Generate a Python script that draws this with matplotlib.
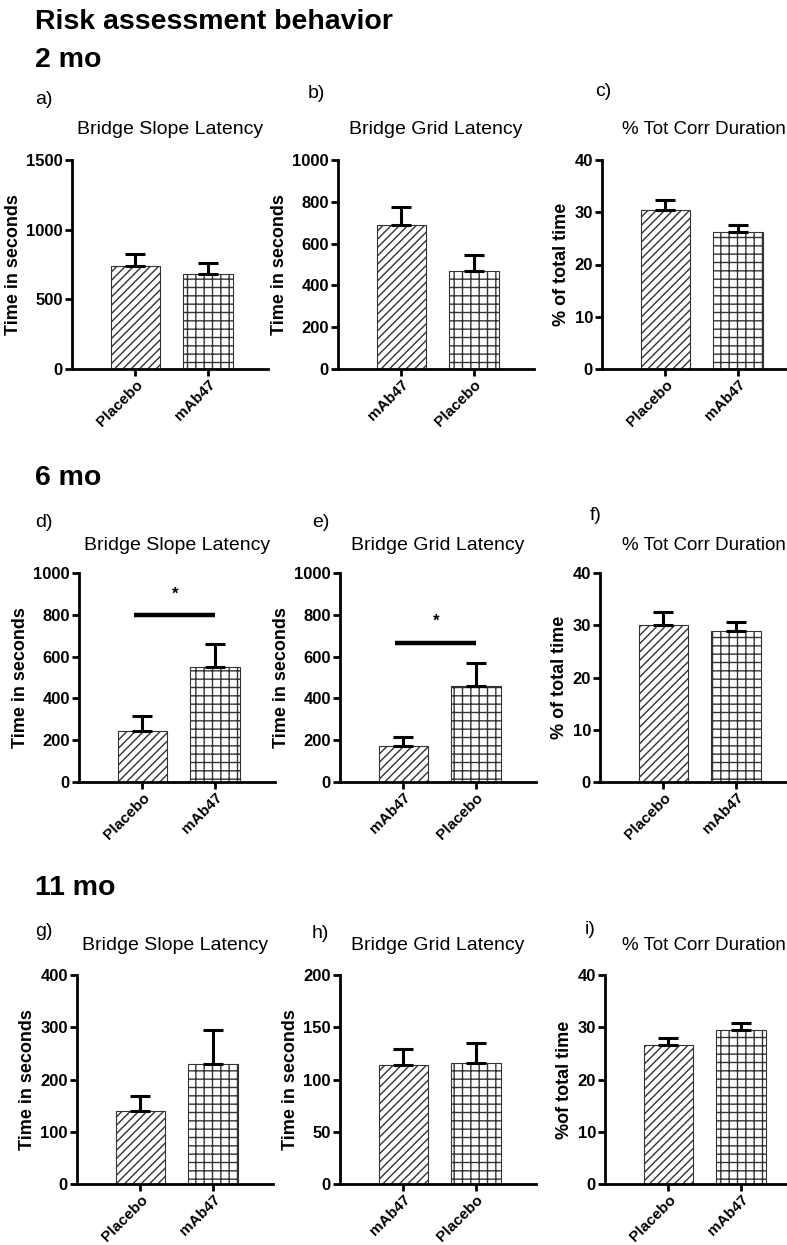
import matplotlib

matplotlib.use('Agg')
import matplotlib.pyplot as plt

plt.rcParams['font.family'] = ['Liberation Sans', 'DejaVu Sans']
plt.rcParams['hatch.linewidth'] = 1.0

W, H = 787, 1245

# data (mean, upper error)
titles = ['Bridge Slope Latency', 'Bridge Grid Latency', '% Tot Corr Duration']
ages = ['2 mo', '6 mo', '11 mo']
letters = ['a)', 'b)', 'c)', 'd)', 'e)', 'f)', 'g)', 'h)', 'i)']

groups_a = ['Placebo', 'mAb47']
groups_b = ['mAb47', 'Placebo']

means_2mo = [[740, 681], [691, 469], [30.5, 26.3]]
errs_2mo = [[84, 83], [82, 77], [1.8, 1.2]]
means_6mo = [[243, 548], [171, 457], [30.0, 28.9]]
errs_6mo = [[74, 111], [43, 111], [2.5, 1.8]]
means_11mo = [[139, 229], [113.7, 115.7], [26.6, 29.5]]
errs_11mo = [[30, 66], [15.7, 19.1], [1.3, 1.4]]

ymax = [[1500, 1000, 40], [1000, 1000, 40], [400, 200, 40]]
ystep = [[500, 200, 10], [200, 200, 10], [100, 50, 10]]
ylabels = ['Time in seconds', 'Time in seconds', '% of total time']
ylabels_11 = ['Time in seconds', 'Time in seconds', '%of total time']

# significance bars (row, col, y of bar, y of star)
sig = [(1, 0, 800, 900), (1, 1, 667, 770)]

# layout in pixels
axes_left = [[72, 338, 602], [79, 340, 600], [77, 340, 605]]
axes_top = [160, 573, 975]
axes_h = 209
axes_w = 196
age_y = [60, 478, 888]
letter_pos = [[(35, 100), (308, 94), (595, 92)],
              [(35, 522), (312, 523), (590, 515)],
              [(35, 932), (312, 934), (585, 930)]]
title_y = [129, 545, 946]


def fx(x):
    return x / W


def fy(y):
    return 1 - y / H


fig = plt.figure(figsize=(W / 100, H / 100), dpi=100)
fig.patch.set_facecolor('white')

fig.text(fx(35), fy(22), 'Risk assessment behavior', fontsize=20.5, fontweight='bold', va='center')

all_means = [means_2mo, means_6mo, means_11mo]
all_errs = [errs_2mo, errs_6mo, errs_11mo]
hatches = ['////', '++']

for r in range(3):
    fig.text(fx(35), fy(age_y[r]), ages[r], fontsize=20.5, fontweight='bold', va='center')
    for c in range(3):
        left = axes_left[r][c]
        ax = fig.add_axes([fx(left), fy(axes_top[r] + axes_h), axes_w / W, axes_h / H])
        groups = groups_b if c == 1 else groups_a
        vals = all_means[r][c]
        errs = all_errs[r][c]
        xs = [0, 1]
        for i in range(2):
            ax.bar(xs[i], vals[i], width=0.68, color='white', edgecolor='#333333',
                   linewidth=0.8, hatch=hatches[i], zorder=2)
        ax.errorbar(xs, vals, yerr=[[0, 0], errs], fmt='none', ecolor='black',
                    elinewidth=2.2, capsize=7, capthick=2.2, zorder=3)
        ax.set_xlim(-0.87, 1.82)
        ax.set_ylim(0, ymax[r][c])
        ax.set_yticks(range(0, ymax[r][c] + 1, ystep[r][c]))
        ax.set_xticks(xs)
        ax.set_xticklabels(groups, rotation=45, ha='right', rotation_mode='anchor',
                           fontsize=11, fontweight='bold')
        for lab in ax.get_yticklabels():
            lab.set_fontweight('bold')
            lab.set_fontsize(12)
        for s in ['top', 'right']:
            ax.spines[s].set_visible(False)
        for s in ['left', 'bottom']:
            ax.spines[s].set_linewidth(2.0)
        ax.tick_params(width=2.0, length=5, pad=1.5)
        ax.tick_params(axis='x', pad=1)
        ax.patch.set_alpha(0)
        ylab = ylabels_11[c] if r == 2 else ylabels[c]
        ax.set_ylabel(ylab, fontsize=13, fontweight='bold', labelpad=3)

        if c < 2:
            fig.text(fx(left + 98), fy(title_y[r]), titles[c],
                     fontsize=14, ha='center', va='center')
        else:
            fig.text(fx(786), fy(title_y[r]), titles[c],
                     fontsize=13.5, ha='right', va='center')
        lx, ly = letter_pos[r][c]
        fig.text(fx(lx), fy(ly), letters[r * 3 + c], fontsize=14, va='center')

        for (sr, sc, yb, ys) in sig:
            if sr == r and sc == c:
                ax.plot([-0.12, 1.0], [yb, yb], color='black', linewidth=3.2,
                        solid_capstyle='butt', zorder=4)
                ax.text(0.45, ys, '*', ha='center', va='center', fontsize=12,
                        fontweight='bold')

fig.savefig('out.png', dpi=100, facecolor='white')
